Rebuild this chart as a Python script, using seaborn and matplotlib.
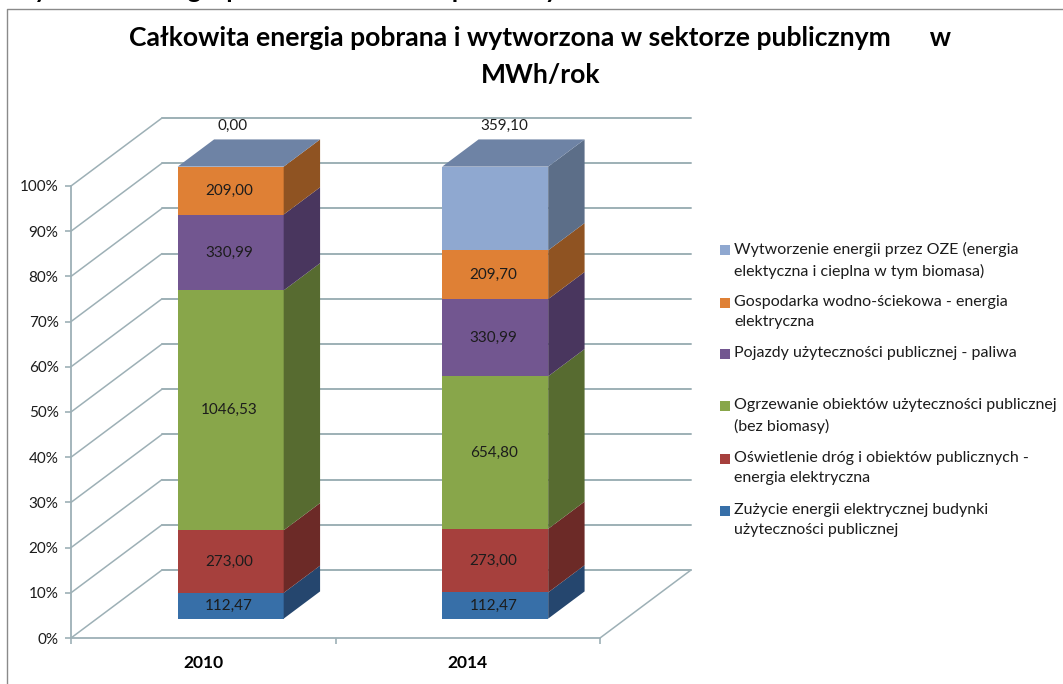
#!/usr/bin/env python3
"""
Total energy drawn and produced in the public sector: 3D-looking 100% stacked bars.
"""

import numpy as np
import pandas as pd
import matplotlib
matplotlib.use("Agg")
import matplotlib.pyplot as plt
from matplotlib.lines import Line2D
from matplotlib.patches import Polygon, Rectangle
from matplotlib.transforms import Affine2D
import seaborn as sns

years = ["2010", "2014"]
series_names = ["Zużycie", "Oświetlenie", "Ogrzewanie", "Pojazdy", "Gospodarka", "OZE"]
zuzycie = [112.47, 112.47]
oswietlenie = [273.00, 273.00]
ogrzewanie = [1046.53, 654.80]
pojazdy = [330.99, 330.99]
gospodarka = [209.00, 209.70]
oze = [0.00, 359.10]

legend_labels = [
    "Zużycie energii elektrycznej budynki\nużyteczności publicznej",
    "Oświetlenie dróg i obiektów publicznych -\nenergia elektryczna",
    "Ogrzewanie obiektów użyteczności publicznej\n(bez biomasy)",
    "Pojazdy użyteczności publicznej - paliwa",
    "Gospodarka wodno-ściekowa - energia\nelektryczna",
    "Wytworzenie energii przez OZE (energia\nelektyczna i cieplna w tym biomasa)",
]
front_colors = ["#376FA8", "#A6403D", "#88A64A", "#725690", "#DF8035", "#8FA8D0"]
side_colors = ["#25466E", "#6C2A27", "#576B30", "#49365E", "#8F5322", "#5C6E88"]
top_color = "#6E83A5"
grid_color = "#9DB0B6"
text_color = "#1c1c1c"

W, H = 1063, 684
FONT = ["Lato", "DejaVu Sans"]

sns.set_theme(style="white")
plt.rcParams["font.family"] = FONT

fig = plt.figure(figsize=(W / 100, H / 100), dpi=100, facecolor="white")
x0, x1, y0, y1 = 71, 600, 638, 186
ax = fig.add_axes([x0 / W, 1 - y0 / H, (x1 - x0) / W, (y0 - y1) / H])
ax.set_xlim(-0.5, 1.5)
ax.set_ylim(0, 100)
ax.patch.set_alpha(0)
sns.despine(ax=ax, top=True, right=True, bottom=False, left=False)

# oblique projection: full chart depth in data units
px_x = (x1 - x0) / 2
px_y = (y0 - y1) / 100
DEPTH_X = 91 / px_x
DEPTH_Y = 68 / px_y
BAR_FRONT = 0.285
BAR_BACK = 0.685
BAR_WIDTH = 106 / px_x
BAR_NUDGE = 1.5 / px_x


def project(x, y, d):
    return (x + d * DEPTH_X, y + d * DEPTH_Y)


# walls and floor
ticks = np.arange(0, 101, 10)
for t in ticks:
    ax.plot(*zip(project(-0.5, t, 0), project(-0.5, t, 1)), color=grid_color, lw=1.1, clip_on=False, zorder=1)
    ax.plot(*zip(project(-0.5, t, 1), project(1.5, t, 1)), color=grid_color, lw=1.4, clip_on=False, zorder=1)
ax.plot(*zip(project(1.5, 0, 0), project(1.5, 0, 1)), color=grid_color, lw=1.1, clip_on=False, zorder=1)

values = np.array([zuzycie, oswietlenie, ogrzewanie, pojazdy, gospodarka, oze])
shares = values / values.sum(axis=0) * 100
bottoms = np.vstack([np.zeros(2), np.cumsum(shares, axis=0)[:-1]])

# front faces, pushed back to the bar's depth afterwards
depth_shift = Affine2D().translate(BAR_FRONT * DEPTH_X + BAR_NUDGE, BAR_FRONT * DEPTH_Y) + ax.transData
for i, name in enumerate(series_names):
    df = pd.DataFrame({"year": years, "share": shares[i], "bottom": bottoms[i]})
    sns.barplot(data=df, x="year", y="share", bottom=df["bottom"].values, width=BAR_WIDTH,
                color=front_colors[i], saturation=1, linewidth=0, ax=ax, zorder=3)
ax.set_xlim(-0.5, 1.5)
ax.set_ylim(0, 100)
for p in ax.patches:
    p.set_transform(depth_shift)
    p.set_clip_on(False)

# side and top faces
for j in range(len(years)):
    right = j + BAR_NUDGE + BAR_WIDTH / 2
    left = j + BAR_NUDGE - BAR_WIDTH / 2
    for i in range(len(series_names)):
        b, t = bottoms[i][j], bottoms[i][j] + shares[i][j]
        if shares[i][j] == 0:
            continue
        pts = [project(right, b, BAR_FRONT), project(right, b, BAR_BACK),
               project(right, t, BAR_BACK), project(right, t, BAR_FRONT)]
        ax.add_patch(Polygon(pts, closed=True, fc=side_colors[i], ec="none", clip_on=False, zorder=3))
    pts = [project(left, 100, BAR_FRONT), project(right, 100, BAR_FRONT),
           project(right, 100, BAR_BACK), project(left, 100, BAR_BACK)]
    ax.add_patch(Polygon(pts, closed=True, fc=top_color, ec="none", clip_on=False, zorder=3))

# value labels, the generation series sits above the bar
top_shift = [3.5 / px_x, 10.5 / px_x]
for j in range(len(years)):
    for i in range(len(series_names)):
        label = f"{values[i][j]:.2f}".replace(".", ",")
        if i == len(series_names) - 1:
            xy = project(j + top_shift[j], 100 + 41 / px_y, BAR_FRONT)
        else:
            xy = project(j, bottoms[i][j] + shares[i][j] / 2, BAR_FRONT)
        ax.text(xy[0], xy[1], label, ha="center", va="center", fontsize=11, color=text_color,
                clip_on=False, zorder=5)

# axes
ax.set_xticks([-0.5, 0.5, 1.5])
ax.set_xticklabels([])
ax.set_yticks(ticks)
ax.set_yticklabels([f"{t}%" for t in ticks], fontsize=11, color=text_color)
ax.set_xlabel("")
ax.set_ylabel("")
ax.tick_params(axis="both", length=4, width=1.2, color=grid_color, bottom=True, left=True, pad=5)
for side in ["left", "bottom"]:
    ax.spines[side].set_color(grid_color)
    ax.spines[side].set_linewidth(1.3)
for j, year in enumerate(years):
    ax.text(j, -5.6, year, ha="center", va="center", fontsize=12.5, fontweight="bold", color="black")

# title
fig.text(540 / W, 1 - 38 / H, "Całkowita energia pobrana i wytworzona w sektorze publicznym      w",
         ha="center", va="center", fontsize=19.1, fontweight="bold", color="black")
fig.text(541 / W, 1 - 75 / H, "MWh/rok", ha="center", va="center", fontsize=19.1, fontweight="bold", color="black")

# legend, drawn by hand because the original keeps its squares on the first line
legend_y = [511, 459, 406, 354, 303, 250]
for label, color, y in zip(legend_labels, front_colors, legend_y):
    fig.add_artist(Rectangle((720 / W, 1 - (y + 5) / H), 10 / W, 10 / H, transform=fig.transFigure,
                             fc=color, ec="none"))
    fig.text(734 / W, 1 - (y - 8) / H, label, ha="left", va="top", fontsize=11.5, color=text_color,
             linespacing=1.55)

# chart frame and the cut off caption above it
fig.add_artist(Line2D([7 / W, 7 / W, 1], [0, 1 - 8.5 / H, 1 - 8.5 / H], color="#8a8a8a", lw=1))
fig.text(8 / W, 1 + 9 / H, "Wykres 7 - Energia pobrana w sektorze publicznym", ha="left", va="center",
         fontsize=18, fontweight="bold", color="black")

fig.savefig("out.png", dpi=100)
